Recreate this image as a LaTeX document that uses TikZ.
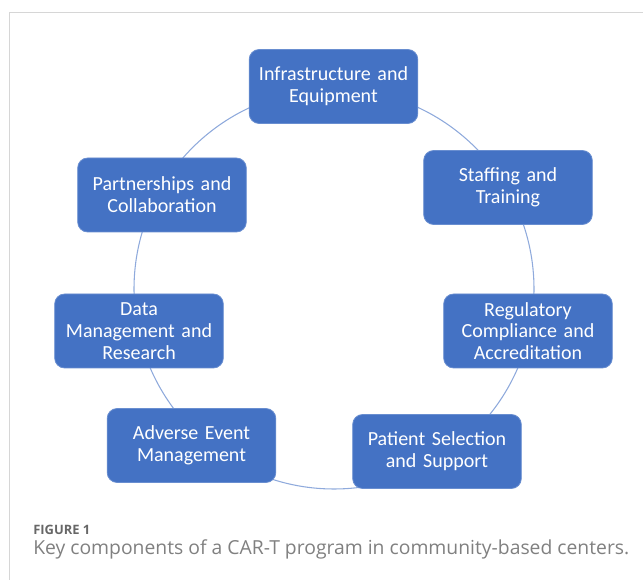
\documentclass[tikz,border=0pt]{standalone}
\usepackage{fontspec}
\setmainfont{Carlito}
\newfontfamily\capfont{Open Sans}
\definecolor{boxblue}{RGB}{68,114,196}
\definecolor{ringblue}{RGB}{143,170,220}
\definecolor{framegray}{RGB}{214,214,214}
\definecolor{capgray}{RGB}{128,128,128}
\begin{document}
\begin{tikzpicture}[x=0.75pt,y=0.75pt,yscale=-1,xscale=1,
	part/.style={draw=boxblue!80!white, line width=0.6pt, fill=boxblue, rounded corners=7.5pt,
		minimum width=126.5pt, minimum height=55.5pt, text width=120pt, align=center,
		inner sep=0pt, text=white, font=\fontsize{15}{16.3}\selectfont},
	ring/.style={draw=ringblue, line width=0.8pt},
	captext/.style={anchor=base west, inner sep=0pt, text=capgray}]
	\useasboundingbox (0,0) rectangle (643,580);

	%Frame lines
	\draw [framegray, line width=0.75pt] (9.5,580) -- (9.5,12.5) -- (643,12.5) ;
	%Ring behind the boxes
	\coordinate (ctr) at (334,289);
	\draw [ring] (ctr) circle [radius=200] ;

	%Boxes on the ring
	\node [part] (infra) at (333.5,86.5) {Infrastructure and\\Equipment};
	\node [part] (staff) at (508,187.5) {Staffing and\\Training};
	\node [part] (regul) at (528,331) {Regulatory\\Compliance and\\Accreditation};
	\node [part] (patient) at (437,451.5) {Patient Selection\\and Support};
	\node [part] (adverse) at (191.5,445.5) {Adverse Event\\Management};
	\node [part] (data) at (139,331) {Data\\Management and\\Research};
	\node [part] (partner) at (162,195) {Partnerships and\\Collaboration};

	% Caption
	\node [captext, text=capgray!80!black, font=\capfont\bfseries\fontsize{9.7}{12}\selectfont] (fignum) at (33,535) {FIGURE 1};
	\node [captext, font=\capfont\fontsize{14.5}{17}\selectfont] (figcap) at (33,555) {Key components of a CAR-T program in community-based centers.};
\end{tikzpicture}
\end{document}
